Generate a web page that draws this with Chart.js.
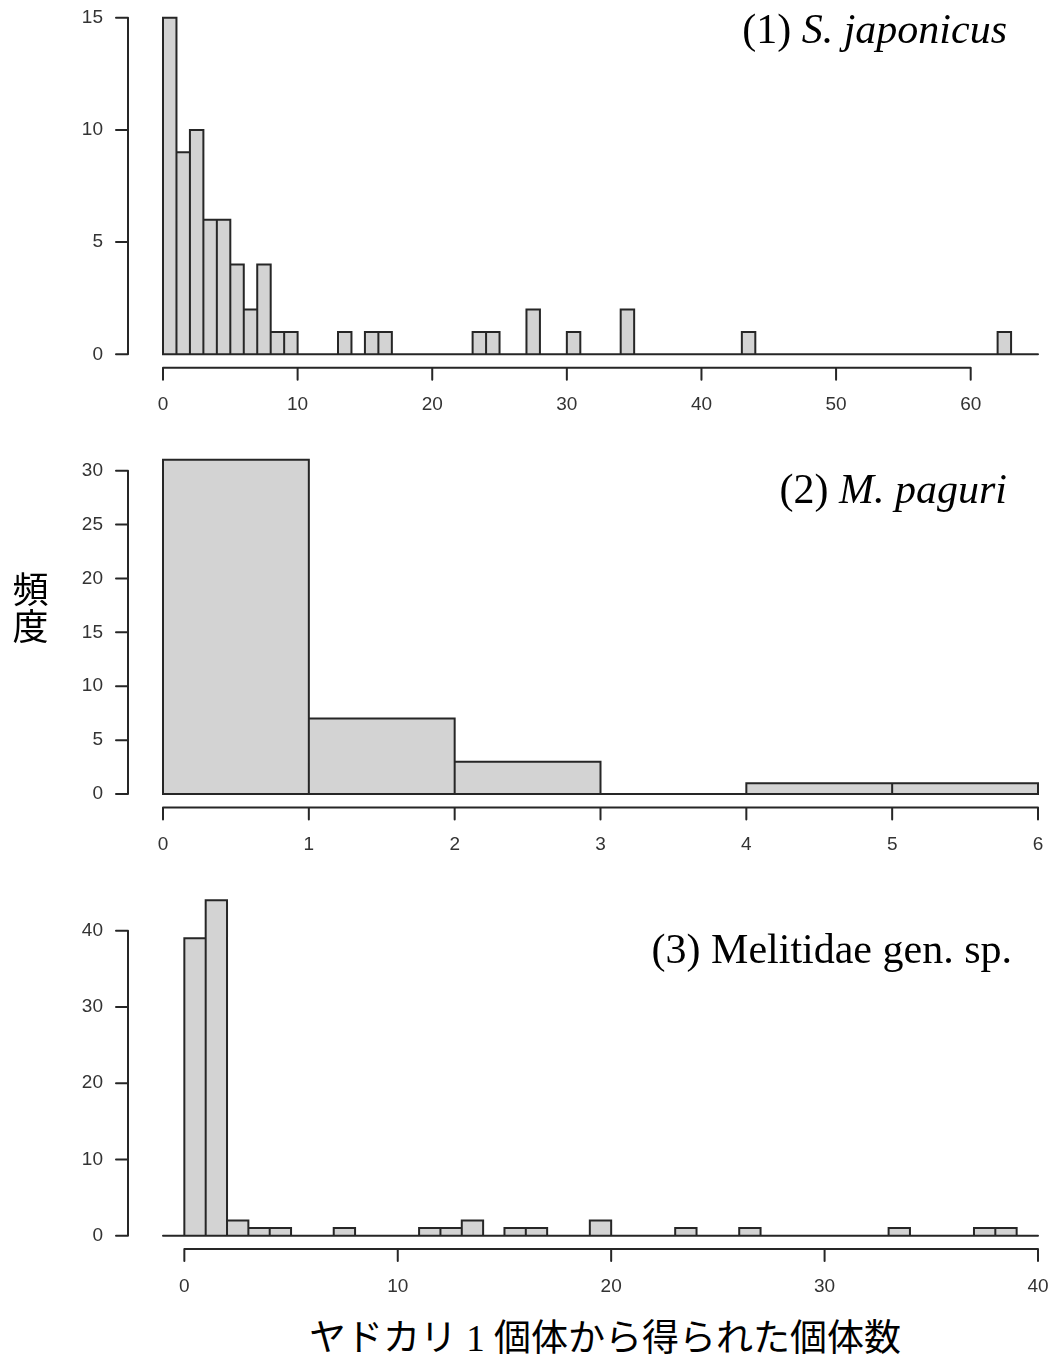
<!DOCTYPE html>
<html>
<head>
<meta charset="utf-8">
<script src="https://cdn.jsdelivr.net/npm/chart.js@4"></script>
<style>
  html, body { margin: 0; background: #fff; width: 1053px; height: 1367px; overflow: hidden; position: relative; }
  canvas { position: absolute; left: 0; }
  .ttl { position: absolute; font-family: "Liberation Serif", serif; font-size: 42px; line-height: 42px; white-space: nowrap; color: #000; }
  .ylab { position: absolute; left: 12px; top: 569px; width: 37px; text-align: center; font-family: "Noto Sans CJK JP", sans-serif; font-size: 36px; line-height: 37px; color: #000; }
  .xlab { position: absolute; left: 205px; width: 800px; top: 1316px; text-align: center; font-family: "Liberation Serif", "Noto Sans CJK JP", serif; font-size: 37px; line-height: 46px; white-space: nowrap; color: #000; }
</style>
</head>
<body>
<canvas id="h1" width="1100" height="430" style="top:0px"></canvas>
<canvas id="h2" width="1100" height="440" style="top:430px"></canvas>
<canvas id="h3" width="1100" height="440" style="top:870px"></canvas>

<div class="ttl" style="top:8px; right:46px">(1) <i>S. japonicus</i></div>
<div class="ttl" style="top:468px; right:46px">(2) <i>M. paguri</i></div>
<div class="ttl" style="top:928px; right:41px">(3) Melitidae gen. sp.</div>
<div class="ylab">頻<br>度</div>
<div class="xlab">ヤドカリ 1 個体から得られた個体数</div>

<script>
// ── counts per 1-wide bin ───────────────────────────────────────────────────

// (1) S. japonicus, bins 0..65
const start1 = 0;
const counts1 = [
    15, 9, 10, 6, 6, 4, 2, 4, 1, 1,
    0, 0, 0, 1, 0, 1, 1, 0, 0, 0,
    0, 0, 0, 1, 1, 0, 0, 2, 0, 0,
    1, 0, 0, 0, 2, 0, 0, 0, 0, 0,
    0, 0, 0, 1, 0, 0, 0, 0, 0, 0,
    0, 0, 0, 0, 0, 0, 0, 0, 0, 0,
    0, 0, 1, 0, 0
];
const xTicks1 = [0, 10, 20, 30, 40, 50, 60];
const yTicks1 = [0, 5, 10, 15];

// (2) M. paguri, bins 0..6
const start2 = 0;
const counts2 = [31, 7, 3, 0, 1, 1];
const xTicks2 = [0, 1, 2, 3, 4, 5, 6];
const yTicks2 = [0, 5, 10, 15, 20, 25, 30];

// (3) Melitidae gen. sp., bins -1..40
const start3 = -1;
const counts3 = [
    0,
    39, 44, 2, 1, 1, 0, 0, 1, 0, 0,
    0, 1, 1, 2, 0, 1, 1, 0, 0, 2,
    0, 0, 0, 1, 0, 0, 1, 0, 0, 0,
    0, 0, 0, 1, 0, 0, 0, 1, 1, 0
];
const xTicks3 = [0, 10, 20, 30, 40];
const yTicks3 = [0, 10, 20, 30, 40];

const INK = '#262626';
const FILL = '#d3d3d3';
const TICK_FONT = { family: 'Liberation Sans', size: 19 };
const TICK_LEN = 12;

// R-style: outlined bars, zero baseline, detached axes
const rAxes = {
    id: 'rAxes',
    afterDatasetsDraw(chart, args, opts) {
        const { ctx, chartArea: a, scales: { x, y } } = chart;
        const d = chart.data.datasets[0].data;
        ctx.save();
        ctx.strokeStyle = INK;
        ctx.lineWidth = 2;
        ctx.lineCap = 'round';

        ctx.beginPath();
        chart.getDatasetMeta(0).data.forEach((bar, i) => {
            if (!d[i].y) return;
            const p = bar.getProps(['x', 'y', 'base', 'width'], true);
            ctx.rect(p.x - p.width / 2, p.y, p.width, p.base - p.y);
        });
        const y0 = y.getPixelForValue(0);
        ctx.moveTo(x.getPixelForValue(opts.start), y0);
        ctx.lineTo(x.getPixelForValue(opts.start + d.length), y0);
        ctx.stroke();

        // y axis
        const yp = y.ticks.map(t => y.getPixelForValue(t.value));
        ctx.beginPath();
        ctx.moveTo(a.left, yp[0]);
        ctx.lineTo(a.left, yp[yp.length - 1]);
        yp.forEach(p => { ctx.moveTo(a.left, p); ctx.lineTo(a.left - TICK_LEN, p); });
        // x axis
        const xp = x.ticks.map(t => x.getPixelForValue(t.value));
        ctx.moveTo(xp[0], a.bottom);
        ctx.lineTo(xp[xp.length - 1], a.bottom);
        xp.forEach(p => { ctx.moveTo(p, a.bottom); ctx.lineTo(p, a.bottom + TICK_LEN); });
        ctx.stroke();
        ctx.restore();
    }
};

function makeHist(id, start, counts, xTicks, yTicks, areaTop, areaBottom) {
    const cv = document.getElementById(id);
    const H = cv.height;
    const n = counts.length;
    const ymax = Math.max(...counts);
    // R pads both ranges by 4%
    const xPad = n * 0.04, yPad = ymax * 0.04;

    new Chart(cv, {
        type: 'bar',
        data: {
            datasets: [{
                data: counts.map((c, i) => ({ x: start + i + 0.5, y: c })),
                backgroundColor: FILL,
                borderWidth: 0,
                barPercentage: 1,
                categoryPercentage: 1
            }]
        },
        options: {
            responsive: false,
            animation: false,
            layout: { padding: { top: areaTop, left: 0, right: cv.width - 1073, bottom: 0 } },
            plugins: {
                legend: { display: false },
                tooltip: { enabled: false },
                rAxes: { start: start }
            },
            scales: {
                x: {
                    type: 'linear',
                    offset: false,
                    min: start - xPad,
                    max: start + n + xPad,
                    grid: { display: false, drawTicks: false },
                    border: { display: false },
                    ticks: { font: TICK_FONT, color: '#333', padding: 26, maxRotation: 0 },
                    afterBuildTicks: s => { s.ticks = xTicks.map(v => ({ value: v })); },
                    afterFit: s => { s.height = H - areaBottom; s.paddingLeft = 0; s.paddingRight = 0; }
                },
                y: {
                    min: -yPad,
                    max: ymax + yPad,
                    grid: { display: false, drawTicks: false },
                    border: { display: false },
                    ticks: { font: TICK_FONT, color: '#333', padding: 25 },
                    afterBuildTicks: s => { s.ticks = yTicks.map(v => ({ value: v })); },
                    afterFit: s => { s.width = 128; s.paddingTop = 0; s.paddingBottom = 0; }
                }
            }
        },
        plugins: [rAxes]
    });
}

makeHist('h1', start1, counts1, xTicks1, yTicks1, 4.2, 367.8);
makeHist('h2', start2, counts2, xTicks2, yTicks2, 16.5, 377.4);
makeHist('h3', start3, counts3, xTicks3, yTicks3, 16.8, 379.1);
</script>
</body>
</html>
